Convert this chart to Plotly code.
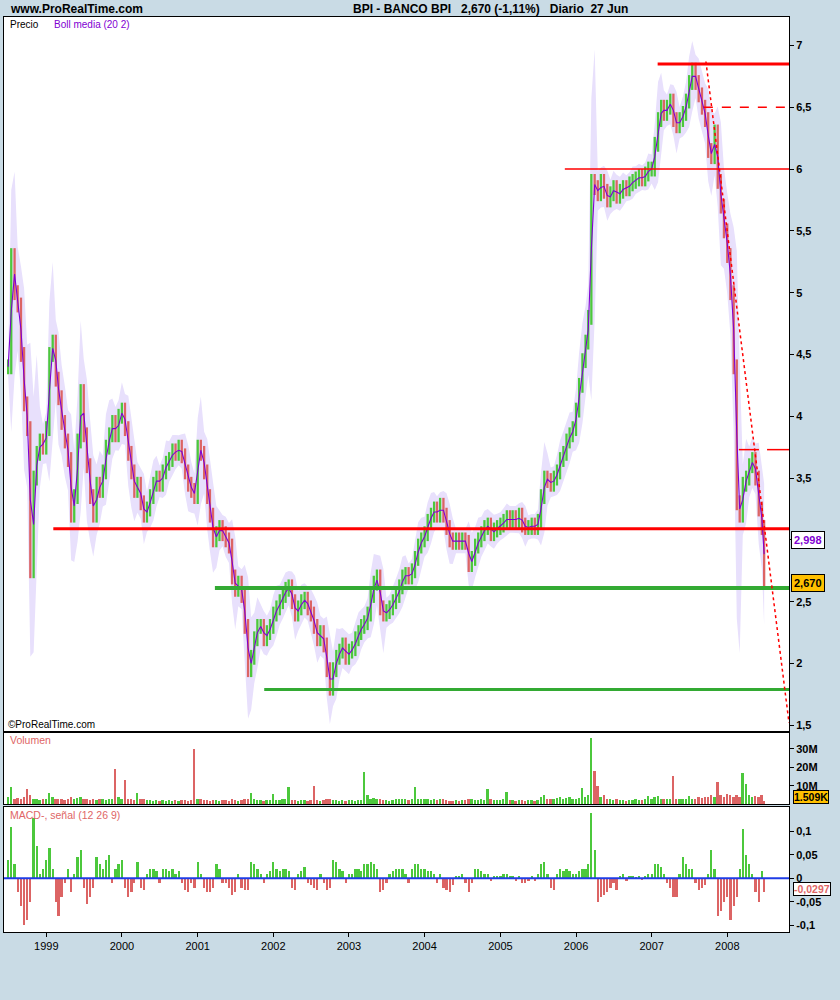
import plotly.graph_objects as go
import pandas as pd

# ---------------- data (semi-monthly samples) ----------------
HALF_MONTH_DAYS = ["01-01", "01-16", "02-01", "02-16", "03-01", "03-16",
                   "04-01", "04-16", "05-01", "05-16", "06-01", "06-16",
                   "07-01", "07-16", "08-01", "08-16", "09-01", "09-16",
                   "10-01", "10-16", "11-01", "11-16", "12-01", "12-16"]
LAST_DAY = "2008-06-27"

close_1998 = [4.4, 5.3, 5.0, 4.9, 4.5, 4.1, 3.9, 2.75, 3.5, 3.7, 3.8, 3.75]
close_1999 = [3.9, 4.5, 4.6, 4.3, 4.15, 3.95, 3.8, 3.65, 3.2, 3.35, 3.8, 4.2,
              3.85, 3.6, 3.35, 3.2, 3.45, 3.4, 3.55, 3.75, 3.85, 3.95, 3.85, 4.0]
close_2000 = [4.05, 3.9, 3.7, 3.55, 3.4, 3.45, 3.3, 3.2, 3.25, 3.35, 3.45, 3.5,
              3.45, 3.55, 3.62, 3.65, 3.72, 3.7, 3.75, 3.68, 3.55, 3.45, 3.4, 3.35]
close_2001 = [3.75, 3.7, 3.55, 3.35, 3.2, 3.0, 3.05, 3.1, 3.05, 3.0, 2.95, 2.7,
              2.6, 2.65, 2.55, 2.3, 1.95, 2.05, 2.2, 2.3, 2.3, 2.2, 2.25, 2.3]
close_2002 = [2.4, 2.45, 2.5, 2.55, 2.6, 2.62, 2.5, 2.4, 2.45, 2.5, 2.52, 2.45,
              2.4, 2.3, 2.2, 2.25, 2.15, 1.95, 1.8, 1.95, 2.05, 2.1, 2.15, 2.05]
close_2003 = [2.1, 2.12, 2.2, 2.25, 2.3, 2.33, 2.4, 2.55, 2.65, 2.7, 2.45, 2.4,
              2.42, 2.45, 2.5, 2.55, 2.62, 2.7, 2.72, 2.7, 2.75, 2.85, 2.95, 3.0]
close_2004 = [3.05, 3.15, 3.2, 3.25, 3.2, 3.28, 3.2, 3.1, 3.0, 2.98, 3.0, 2.98,
              3.0, 2.98, 2.8, 2.85, 2.95, 3.0, 3.05, 3.1, 3.12, 3.05, 3.08, 3.1]
close_2005 = [3.12, 3.15, 3.18, 3.15, 3.18, 3.15, 3.2, 3.12, 3.1, 3.1, 3.12, 3.1,
              3.15, 3.35, 3.5, 3.48, 3.45, 3.5, 3.55, 3.65, 3.7, 3.8, 3.85, 3.9]
close_2006 = [4.05, 4.25, 4.45, 4.6, 4.8, 5.9, 5.85, 5.8, 5.9, 5.82, 5.75, 5.8,
              5.85, 5.78, 5.82, 5.85, 5.84, 5.88, 5.9, 5.92, 5.94, 5.92, 5.96, 6.0]
close_2007 = [6.0, 6.2, 6.4, 6.5, 6.45, 6.5, 6.55, 6.4, 6.35, 6.4, 6.45, 6.55,
              6.7, 6.8, 6.7, 6.6, 6.5, 6.4, 6.15, 6.1, 6.3, 5.9, 5.7, 5.5]
close_2008 = [5.3, 5.0, 4.4, 3.3, 3.2, 3.45, 3.5, 3.6, 3.65, 3.5, 3.25, 3.1, 2.67]

# volume in millions
vol_1998 = [4, 9, 3, 3.5, 3, 4, 8, 5, 3, 2.5, 2, 3]
vol_1999 = [3, 6, 4, 3, 2.5, 3, 2, 3, 4, 3, 3.5, 4, 3, 2.5, 2, 3, 2, 2.5, 3, 2, 3, 2.5, 19, 4]
vol_2000 = [3, 13, 3, 2.5, 2, 6, 3, 2.5, 2, 2, 1.5, 2, 1.5, 2, 1.5, 2, 1.5, 2, 1.5, 2, 2, 1.5, 2, 30]
vol_2001 = [3, 2.5, 2, 2, 1.5, 2, 2, 1.5, 2, 2, 1.5, 2.5, 2, 1.5, 2, 2.5, 3, 6, 2.5, 2, 2, 1.5, 2, 2]
vol_2002 = [5.5, 2, 2, 2.5, 3, 9.5, 2, 2, 1.5, 2, 2, 1.5, 2, 10, 2, 1.5, 2, 2.5, 3, 2, 2, 1.5, 2, 1.5]
vol_2003 = [2, 2, 1.5, 2, 2, 17.5, 5, 3, 3.5, 3, 2.5, 2, 2, 1.5, 2, 2.5, 3, 3, 2.5, 2, 2.5, 9, 3, 2.5]
vol_2004 = [3, 2.5, 2, 2.5, 2, 3, 2.5, 2, 1.5, 1.5, 2, 1.5, 2, 2, 3, 2.5, 2, 2, 2.5, 2, 8, 2.5, 2, 2]
vol_2005 = [2, 2.5, 6.5, 2, 2, 1.5, 2, 2, 1.5, 2, 2, 1.5, 2, 4, 5, 3, 2.5, 3, 3.5, 4, 3, 3.5, 4, 3]
vol_2006 = [3, 3.5, 8.5, 4, 5, 36, 18, 10, 4, 5, 3, 2.5, 2, 2.5, 2, 2, 1.5, 2, 2, 2.5, 2, 2, 3, 4.5]
vol_2007 = [3, 4, 4.5, 3, 3, 2.5, 3, 15, 3, 2.5, 3, 3, 4.5, 3, 3, 4, 3.5, 4, 4, 5, 4, 12, 5, 4]
vol_2008 = [5.5, 5, 4, 5, 4, 17, 11, 5, 4, 4.5, 4, 5, 1.509]

# MACD - signal histogram
macd_1998 = [0.04, 0.11, 0.03, -0.03, -0.06, -0.1, -0.09, -0.05, 0.13, 0.07, 0.01, 0.02]
macd_1999 = [0.04, 0.065, 0.02, -0.05, -0.08, -0.04, -0.01, 0.02, -0.03, 0.01, 0.045, 0.06,
             -0.02, -0.055, -0.04, -0.02, 0.045, 0.03, 0.02, 0.04, 0.05, -0.01, 0.02, 0.03]
macd_2000 = [0.04, -0.02, -0.04, -0.03, -0.01, 0.035, -0.02, -0.025, 0.01, 0.02, 0.02, 0.015,
             -0.01, 0.02, 0.02, 0.015, 0.02, 0.01, 0.015, -0.01, -0.025, -0.03, -0.01, -0.02]
macd_2001 = [0.035, 0.01, -0.02, -0.03, -0.03, -0.02, 0.03, 0.02, -0.01, -0.01, -0.02, -0.035,
             -0.03, 0.01, -0.02, -0.025, -0.025, 0.035, 0.03, 0.02, 0.01, -0.01, 0.01, 0.015]
macd_2002 = [0.035, 0.02, 0.015, 0.02, 0.02, 0.015, -0.02, -0.025, 0.01, 0.015, 0.025, -0.01,
             -0.015, -0.02, -0.025, 0.01, -0.01, -0.025, -0.02, 0.04, 0.035, 0.02, 0.015, -0.01]
macd_2003 = [0.01, 0.01, 0.02, 0.02, 0.015, 0.03, 0.03, 0.035, 0.03, 0.02, -0.03, -0.025,
             -0.01, 0.01, 0.015, 0.02, 0.02, 0.02, 0.01, -0.01, 0.02, 0.03, 0.03, 0.02]
macd_2004 = [0.02, 0.015, 0.015, 0.01, -0.01, 0.01, -0.02, -0.025, -0.03, -0.015, 0.005, 0.005,
             0.01, -0.01, -0.03, -0.01, 0.02, 0.02, 0.015, 0.01, 0.01, -0.005, 0.005, 0.005]
macd_2005 = [0.005, 0.01, 0.01, 0.005, 0.005, -0.005, 0.005, -0.01, -0.01, -0.005, 0.005, -0.005,
             0.01, 0.03, 0.035, 0.01, -0.02, -0.025, 0.01, 0.02, 0.015, 0.02, 0.015, 0.01]
macd_2006 = [0.01, 0.015, 0.02, 0.02, 0.03, 0.14, 0.06, -0.05, -0.04, -0.035, -0.03, -0.02,
             -0.01, -0.025, 0.005, 0.01, -0.005, 0.005, 0.005, 0.003, 0.004, -0.003, 0.005, 0.01]
macd_2007 = [0.01, 0.03, 0.03, 0.025, 0.01, -0.01, -0.02, -0.04, -0.04, 0.01, 0.045, 0.03,
             0.02, 0.02, -0.01, -0.025, -0.02, -0.015, 0.01, 0.06, 0.02, -0.08, -0.07, -0.05]
macd_2008 = [-0.04, -0.09, -0.06, -0.04, 0.02, 0.105, 0.05, 0.03, 0.01, -0.03, -0.05, 0.015, -0.0297]

boll_last = 2.998          # last "Boll media" value shown on the axis box
header_change = "-1,11%"

# drawn support / resistance lines
AXIS_START = "1998-06-11"
AXIS_END = "2008-10-25"
level_starts = ["1999-02-04", "2001-03-25", "2001-11-18", "2007-01-30",
                "2005-11-08", "2007-09-10", "2008-02-26", "2008-07-11"]
level_ends = [AXIS_END, AXIS_END, AXIS_END, AXIS_END, AXIS_END, AXIS_END, "2008-06-02", AXIS_END]
level_prices = [3.09, 2.61, 1.79, 6.85, 6.0, 6.5, 3.73, 3.73]
trend_dates = ["2007-09-20", AXIS_END]
trend_prices = [6.87, 1.52]

year_ticks = ["1999", "2000", "2001", "2002", "2003", "2004", "2005", "2006", "2007", "2008"]
price_ticks = [1.5, 2, 2.5, 3, 3.5, 4, 4.5, 5, 5.5, 6, 6.5, 7]
price_tick_text = ["1,5", "2", "2,5", "", "3,5", "4", "4,5", "5", "5,5", "6", "6,5", "7"]
vol_ticks = [10, 20, 30]
vol_tick_text = ["10M", "20M", "30M"]
macd_ticks = [-0.1, -0.05, 0, 0.05, 0.1]
macd_tick_text = ["-0,1", "-0,05", "0", "0,05", "0,1"]

# ---------------- assemble ----------------
dates = ["1998-" + d for d in HALF_MONTH_DAYS[12:]]
for yr in range(1999, 2008):
    dates += [f"{yr}-{d}" for d in HALF_MONTH_DAYS]
dates += ["2008-" + d for d in HALF_MONTH_DAYS[:12]] + [LAST_DAY]

closes = (close_1998 + close_1999 + close_2000 + close_2001 + close_2002 + close_2003 +
          close_2004 + close_2005 + close_2006 + close_2007 + close_2008)
vols = (vol_1998 + vol_1999 + vol_2000 + vol_2001 + vol_2002 + vol_2003 +
        vol_2004 + vol_2005 + vol_2006 + vol_2007 + vol_2008)
macd = (macd_1998 + macd_1999 + macd_2000 + macd_2001 + macd_2002 + macd_2003 +
        macd_2004 + macd_2005 + macd_2006 + macd_2007 + macd_2008)
assert len(dates) == len(closes) == len(vols) == len(macd)

GREEN = "#4CC83C"
RED = "#DC6464"
LINE_RED = "#FF0000"
LINE_GREEN = "#33AA33"
PURPLE = "#7F00D2"
BAND = "#E8E0FC"
LABEL_RED = "#E06666"
BG = "#C9DBE5"
FONT = "Liberation Sans, Arial, sans-serif"

prev = [closes[0]] + closes[:-1]
up = [c >= p for c, p in zip(closes, prev)]
PAD = 0.06
gx, gy, rx, ry = [], [], [], []
for d, c, p, u in zip(dates, closes, prev, up):
    lo, hi = min(c, p) - PAD, max(c, p) + PAD
    if u:
        gx += [d, d, None]; gy += [lo, hi, None]
    else:
        rx += [d, d, None]; ry += [lo, hi, None]

s = pd.Series(closes)
mid = s.rolling(2, min_periods=1).mean()
sd = s.rolling(3, min_periods=1).std(ddof=0)
upper = mid + 2 * sd + 0.08
lower = mid - 2 * sd - 0.08

fig = go.Figure()
fig.add_trace(go.Scatter(x=dates, y=upper, mode="lines", line=dict(width=0, color=BAND),
                         xaxis="x", yaxis="y", hoverinfo="skip"))
fig.add_trace(go.Scatter(x=dates, y=lower, mode="lines", line=dict(width=0, color=BAND),
                         fill="tonexty", fillcolor=BAND, xaxis="x", yaxis="y", hoverinfo="skip"))
fig.add_trace(go.Scatter(x=gx, y=gy, mode="lines", line=dict(width=2.3, color=GREEN),
                         xaxis="x", yaxis="y"))
fig.add_trace(go.Scatter(x=rx, y=ry, mode="lines", line=dict(width=2.3, color=RED),
                         xaxis="x", yaxis="y"))
fig.add_trace(go.Scatter(x=dates, y=mid, mode="lines", line=dict(width=1.1, color=PURPLE),
                         xaxis="x", yaxis="y"))

DAY_MS = 86400000
fig.add_trace(go.Bar(x=dates, y=vols, marker=dict(color=[GREEN if u else RED for u in up], line_width=0),
                     width=9 * DAY_MS, xaxis="x2", yaxis="y2"))
fig.add_trace(go.Bar(x=dates, y=macd, marker=dict(color=[GREEN if v >= 0 else RED for v in macd], line_width=0),
                     width=11 * DAY_MS, xaxis="x3", yaxis="y3"))

# ---------------- layout ----------------
W, H = 840, 1000
ML, MR, MT, MB = 4, 51, 17, 68
PW, PH = W - ML - MR, H - MT - MB


def px(x):
    return (x - ML) / PW


def py(y):
    return (H - MB - y) / PH


tickfont = dict(family=FONT, size=11, color="black", weight="bold")
common_x = dict(type="date", range=[AXIS_START, AXIS_END], showgrid=False, zeroline=False,
                showline=True, mirror=True, linecolor="black", linewidth=1)
common_y = dict(side="right", showgrid=False, zeroline=False, showline=True, mirror=True,
                linecolor="black", linewidth=1, ticks="outside", ticklen=4, tickcolor="black",
                tickfont=tickfont, fixedrange=True)

fig.update_layout(
    width=W, height=H, margin=dict(l=ML, r=MR, t=MT, b=MB),
    paper_bgcolor=BG, plot_bgcolor="white", showlegend=False, bargap=0,
    xaxis=dict(**common_x, anchor="y", showticklabels=False, ticks=""),
    yaxis=dict(**common_y, domain=[py(731), 1], anchor="x", range=[1.4539, 7.23],
               tickvals=price_ticks, ticktext=price_tick_text),
    xaxis2=dict(**common_x, anchor="y2", matches="x", showticklabels=False, ticks=""),
    yaxis2=dict(**common_y, domain=[py(804), py(733)], anchor="x2", range=[0, 38.7],
                tickvals=vol_ticks, ticktext=vol_tick_text),
    xaxis3=dict(**common_x, anchor="y3", matches="x", ticks="outside", ticklen=4, tickcolor="black",
                tickvals=[f"{y}-01-01" for y in year_ticks], ticktext=year_ticks,
                tickfont=dict(family=FONT, size=11, color="black")),
    yaxis3=dict(**common_y, domain=[0, py(807)], anchor="x3", range=[-0.115, 0.1527],
                tickvals=macd_ticks, ticktext=macd_tick_text),
)

level_colors = [LINE_RED, LINE_GREEN, LINE_GREEN, LINE_RED, LINE_RED, LINE_RED, LINE_RED, LINE_RED]
level_widths = [3, 4, 3, 3, 1.5, 1.5, 1.5, 1.5]
level_dashes = ["solid", "solid", "solid", "solid", "solid", "dash", "solid", "solid"]
shapes = []
for x0, x1, p, c, w, dsh in zip(level_starts, level_ends, level_prices, level_colors, level_widths, level_dashes):
    shapes.append(dict(type="line", xref="x", yref="y", x0=x0, x1=x1, y0=p, y1=p,
                       line=dict(color=c, width=w, dash=dsh)))
shapes.append(dict(type="line", xref="x", yref="y", x0=trend_dates[0], x1=trend_dates[1],
                   y0=trend_prices[0], y1=trend_prices[1], line=dict(color=LINE_RED, width=1.5, dash="dot")))
shapes.append(dict(type="line", xref="x3 domain", yref="y3", x0=0, x1=1, y0=0, y1=0,
                   line=dict(color="#1F3CE6", width=2)))
fig.update_layout(shapes=shapes)


def fmt(v, dec):
    return f"{v:.{dec}f}".replace(".", ",")


ann = []
hdr = dict(family=FONT, size=12, color="black", weight="bold")
ann.append(dict(text="www.ProRealTime.com", xref="paper", yref="paper", x=px(8), y=py(9),
                xanchor="left", yanchor="middle", showarrow=False, font=hdr))
NB = "\u00a0"
ann.append(dict(text=f"BPI - BANCO BPI{NB*3}{fmt(closes[-1], 3)} ({header_change}){NB*3}Diario{NB*2}27 Jun",
                xref="paper", yref="paper", x=px(351), y=py(9), xanchor="left", yanchor="middle",
                showarrow=False, font=hdr))
small = dict(family=FONT, size=10)
ann.append(dict(text="Precio", xref="paper", yref="paper", x=px(8), y=py(24), xanchor="left",
                yanchor="middle", showarrow=False, font=dict(**small, color="black")))
ann.append(dict(text="Boll media (20 2)", xref="paper", yref="paper", x=px(52), y=py(24), xanchor="left",
                yanchor="middle", showarrow=False, font=dict(**small, color=PURPLE)))
ann.append(dict(text="©ProRealTime.com", xref="paper", yref="paper", x=px(6), y=py(724), xanchor="left",
                yanchor="middle", showarrow=False, font=dict(**small, color="black")))
ann.append(dict(text="Volumen", xref="paper", yref="paper", x=px(8), y=py(740), xanchor="left",
                yanchor="middle", showarrow=False, font=dict(family=FONT, size=10.5, color=LABEL_RED)))
ann.append(dict(text="MACD-, señal (12 26 9)", xref="paper", yref="paper", x=px(8), y=py(815), xanchor="left",
                yanchor="middle", showarrow=False, font=dict(family=FONT, size=10.5, color=LABEL_RED)))

boxfont = dict(family=FONT, size=11, weight="bold")
ann.append(dict(text=fmt(boll_last, 3), xref="paper", yref="y", x=px(791), y=boll_last, xanchor="left",
                yanchor="middle", showarrow=False, font=dict(**boxfont, color=PURPLE),
                bgcolor="white", bordercolor="black", borderwidth=1, borderpad=2))
ann.append(dict(text=fmt(closes[-1], 3), xref="paper", yref="y", x=px(791), y=closes[-1], yshift=-2,
                xanchor="left", yanchor="middle", showarrow=False, font=dict(**boxfont, color="black"),
                bgcolor="#FFC000", bordercolor="black", borderwidth=1, borderpad=2))
ann.append(dict(text=f"{vols[-1]:.3f}K", xref="paper", yref="y2", x=px(793), y=3.9, xanchor="left",
                yanchor="middle", showarrow=False, font=dict(family=FONT, size=10.5, weight="bold", color="black"),
                bgcolor="#FFC000", bordercolor="black", borderwidth=1, borderpad=0))
ann.append(dict(text=fmt(macd[-1], 4), xref="paper", yref="y3", x=px(793), y=macd[-1], yshift=3,
                xanchor="left", yanchor="middle", showarrow=False,
                font=dict(family=FONT, size=10.5, weight="bold", color=LABEL_RED),
                bgcolor="white", bordercolor="black", borderwidth=1, borderpad=0))
fig.update_layout(annotations=ann)

fig.write_html("out.html", config={"displayModeBar": False},
               post_script="document.body.style.margin='0';document.body.style.overflow='hidden';")
